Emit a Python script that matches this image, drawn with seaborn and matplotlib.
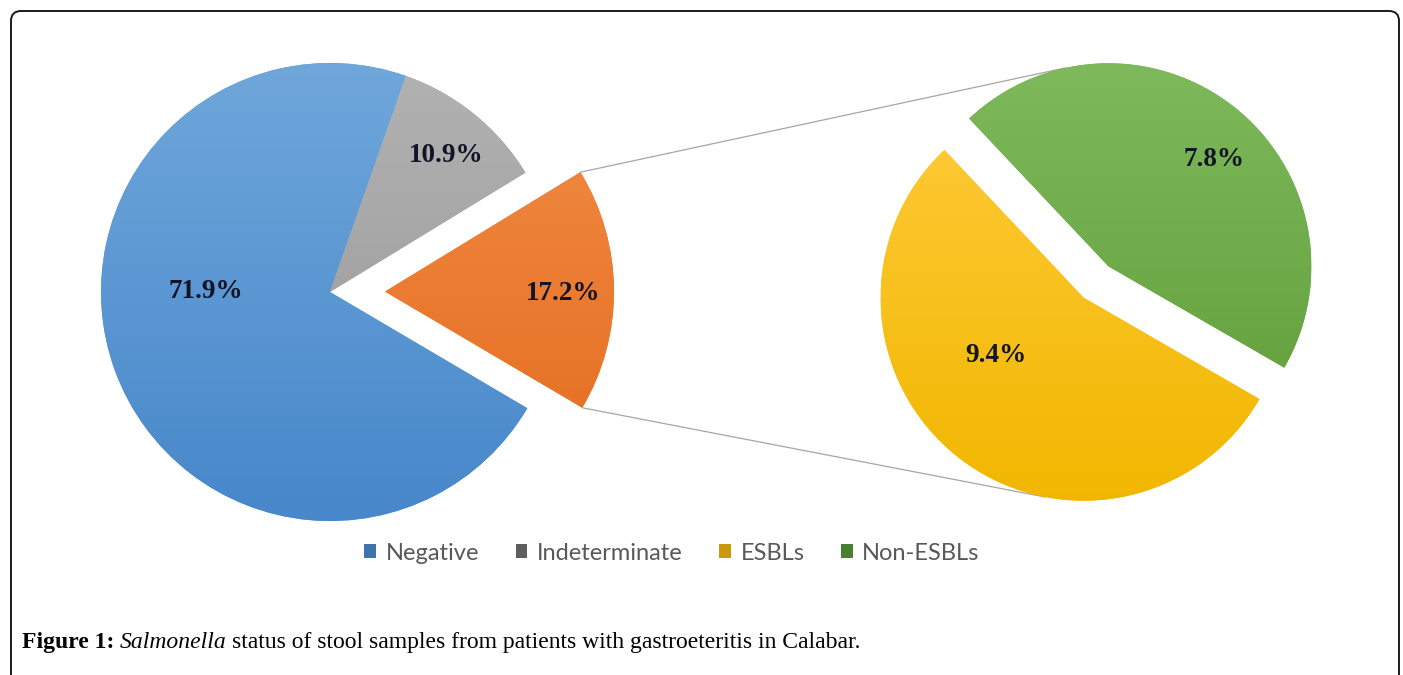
import matplotlib
matplotlib.use("Agg")
import numpy as np
import matplotlib.pyplot as plt
import seaborn as sns
from matplotlib.patches import Patch, FancyBboxPatch
from matplotlib.colors import LinearSegmentedColormap

# ---------------- data ----------------
main_labels = ["Negative", "Indeterminate", "Salmonella"]
main_values = [71.9, 10.9, 17.2]
sub_labels = ["ESBLs", "Non-ESBLs"]
sub_values = [9.4, 7.8]
legend_labels = ["Negative", "Indeterminate", "ESBLs", "Non-ESBLs"]
caption_bold = "Figure 1:"
caption_italic = "Salmonella"
caption_rest = "status of stool samples from patients with gastroeteritis in Calabar."

# ---------------- style ----------------
sns.set_theme(style="white")
plt.rcParams["font.family"] = ["Liberation Serif", "DejaVu Serif"]

main_colors = sns.color_palette(["#5B9BD5", "#A5A5A5", "#ED7D31"])
sub_colors = sns.color_palette(["#FFC000", "#70AD47"])
main_grad = [("#6FA7DB", "#4787CA"), ("#B2B2B2", "#969696"), ("#F38D47", "#E26A1C")]
sub_grad = [("#FFCB3A", "#F1B700"), ("#7EB95B", "#5F9D38")]
legend_colors = ["#3F73AD", "#5E5E5E", "#C99A0C", "#4A7F31"]

W, H = 1403, 675
fig = plt.figure(figsize=(W / 100, H / 100), dpi=100)
ax = fig.add_axes([0, 0, 1, 1])


def Y(y):
    return H - y


# main pie
R1 = 229
C1 = (330, Y(292))
wedges1, _ = ax.pie(main_values, colors=main_colors, startangle=-30.5,
                    counterclock=False, explode=[0, 0, 55], radius=R1,
                    center=C1, frame=True, wedgeprops=dict(linewidth=0))

# secondary pie (breakdown of the Salmonella positive slice)
R2 = 203
C2 = (1096, Y(282))
wedges2, _ = ax.pie(sub_values, colors=sub_colors, startangle=133.3,
                    counterclock=True, explode=[20, 20], radius=R2,
                    center=C2, frame=True, wedgeprops=dict(linewidth=0))


# vertical shading inside each slice
def shade(wedge, c_top, c_bot):
    cx, cy = wedge.center
    r = wedge.r
    cmap = LinearSegmentedColormap.from_list("g", [c_bot, c_top])
    grad = np.linspace(0, 1, 256).reshape(-1, 1)
    im = ax.imshow(grad, cmap=cmap, origin="lower", aspect="auto",
                   extent=(cx - r, cx + r, cy - r, cy + r), zorder=wedge.get_zorder() + 0.1,
                   interpolation="bilinear")
    im.set_clip_path(wedge)


for w, (ct, cb) in zip(wedges1, main_grad):
    shade(w, ct, cb)
for w, (ct, cb) in zip(wedges2, sub_grad):
    shade(w, ct, cb)

ax.set_xlim(0, W)
ax.set_ylim(0, H)
ax.set_aspect("equal")
ax.axis("off")


# connector lines (tangents from the exploded slice corners to the sub-pie)
def tangent(P, C, r, sign):
    P = np.asarray(P, float)
    C = np.asarray(C, float)
    d = np.hypot(*(P - C))
    phi = np.arctan2(P[1] - C[1], P[0] - C[0])
    a = np.arccos(r / d)
    t = phi + sign * a
    return C + r * np.array([np.cos(t), np.sin(t)])


ow = wedges1[2]
oc = np.array(ow.center)
top_corner = oc + ow.r * np.array([np.cos(np.radians(ow.theta2)), np.sin(np.radians(ow.theta2))])
bot_corner = oc + ow.r * np.array([np.cos(np.radians(ow.theta1)), np.sin(np.radians(ow.theta1))])
gw, yw = wedges2[1], wedges2[0]
p_top = tangent(top_corner, gw.center, gw.r, -1)
p_bot = tangent(bot_corner, yw.center, yw.r, +1)
ax.plot([top_corner[0], p_top[0]], [top_corner[1], p_top[1]], color="#A6A6A6", lw=0.9, zorder=0)
ax.plot([bot_corner[0], p_bot[0]], [bot_corner[1], p_bot[1]], color="#A6A6A6", lw=0.9, zorder=0)

# value labels
label_pos_main = [(206, 292), (446, 156), (563, 294)]
label_pos_sub = [(996, 356), (1214, 160)]
for v, (x, y) in zip(main_values, label_pos_main):
    ax.text(x, Y(y), f"{v:.1f}%", ha="center", va="center", fontsize=19.5,
            fontweight="bold", color="#141428", family="Liberation Serif", zorder=10)
for v, (x, y) in zip(sub_values, label_pos_sub):
    ax.text(x, Y(y), f"{v:.1f}%", ha="center", va="center", fontsize=19.5,
            fontweight="bold", color="#141428", family="Liberation Serif", zorder=10)

# legend
handles = [Patch(facecolor=c, edgecolor="none", label=l)
           for c, l in zip(legend_colors, legend_labels)]
leg = fig.legend(handles=handles, loc="center", bbox_to_anchor=(672 / W, 1 - 553 / H),
                 ncol=4, frameon=False, handlelength=0.5, handleheight=0.5,
                 handletextpad=0.4, columnspacing=1.55,
                 prop={"family": "Lato", "size": 17})
for t in leg.get_texts():
    t.set_color("#595959")

# caption
t1 = ax.text(22, Y(653), caption_bold, fontsize=17, fontweight="bold",
             va="bottom", ha="left", color="black")
t2 = ax.annotate(caption_italic, xy=(1, 0), xycoords=t1, xytext=(4, 0),
                 textcoords="offset points", fontsize=17, style="italic",
                 va="bottom", ha="left", color="black")
t3 = ax.annotate(caption_rest, xy=(1, 0), xycoords=t2, xytext=(3.5, 0),
                 textcoords="offset points", fontsize=17,
                 va="bottom", ha="left", color="black")

# border with rounded top corners (bottom runs off the image)
box = FancyBboxPatch((11, -30), 1399 - 11, H - 11 + 30,
                     boxstyle="round,pad=0,rounding_size=10",
                     fill=False, edgecolor="#1a1a1a", linewidth=1.4,
                     transform=ax.transData, clip_on=False)
ax.add_patch(box)

fig.savefig("out.png", dpi=100, facecolor="white")
